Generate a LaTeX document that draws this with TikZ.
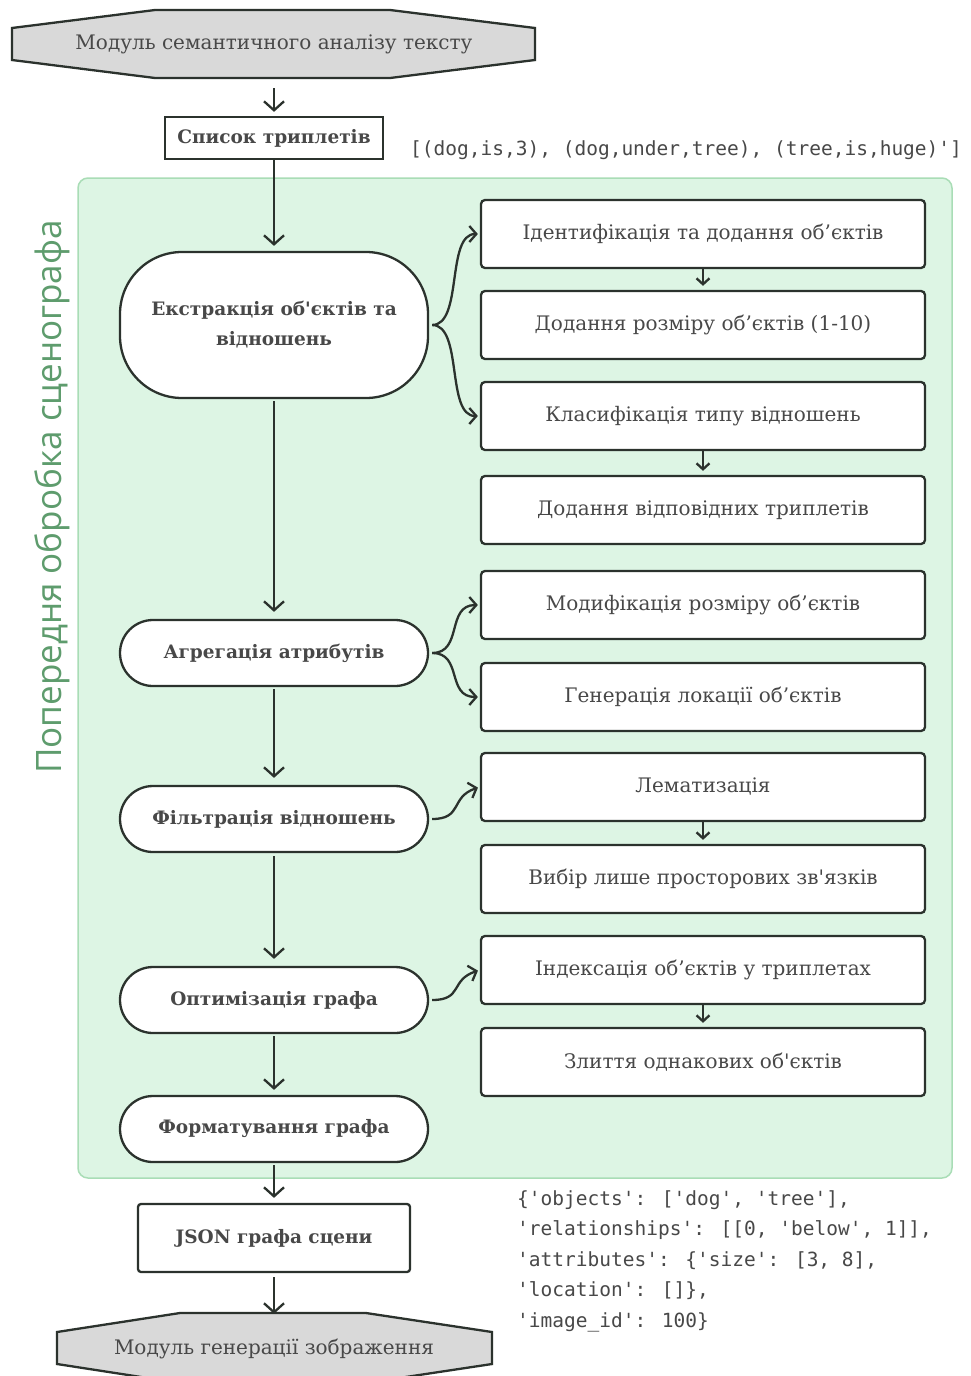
\documentclass[tikz,border=0pt]{standalone}
\usepackage{fontspec}
\setmainfont[Ligatures=TeXOff]{DejaVu Serif}
\newfontfamily\labelfont{Open Sans}
\newfontfamily\codefont[Ligatures=TeXOff]{DejaVu Sans Mono}
\usetikzlibrary{arrows.meta,calc}
\definecolor{panelfill}{HTML}{DDF5E4}
\definecolor{panelline}{HTML}{A9DDB6}
\definecolor{labelgreen}{HTML}{5E9C6D}
\definecolor{linedark}{HTML}{2B322D}
\definecolor{textgrey}{HTML}{484848}
\definecolor{hexfill}{HTML}{D9D9D9}
\begin{document}
\begin{tikzpicture}[x=1pt,y=-1pt,
  arr/.style={draw=linedark, line width=2.3pt, -{Straight Barb[length=9pt,width=20pt,line width=2.3pt]}},
  sarr/.style={draw=linedark, line width=2.3pt, -{Straight Barb[length=6pt,width=13pt,line width=2.3pt]}},
  carr/.style={draw=linedark, line width=2.3pt, -{Straight Barb[length=7pt,width=16pt,line width=2.3pt]}},
  hexline/.style={draw=linedark, line width=2.3pt, fill=hexfill},
  hextext/.style={text=textgrey, font=\fontsize{20}{24}\selectfont, inner sep=0pt},
  pill/.style={draw=linedark, line width=2.3pt, fill=white, minimum width=308pt, minimum height=66pt,
    rounded corners=33pt, text=textgrey, font=\bfseries\fontsize{18.5}{30}\selectfont, align=center},
  sqbox/.style={draw=linedark, line width=2.3pt, fill=white, rounded corners=3pt, text=textgrey,
    font=\bfseries\fontsize{18.5}{22}\selectfont},
  rbox/.style={draw=linedark, line width=2.3pt, fill=white, rounded corners=4pt, minimum width=444pt,
    minimum height=68pt, text=textgrey, font=\fontsize{20}{24}\selectfont},
  code/.style={text=textgrey, font=\codefont\fontsize{19.5}{30.5}\selectfont, inner sep=0pt, align=left},
  panel/.style={draw=panelline, line width=1.5pt, fill=panelfill, rounded corners=10pt}
]
\useasboundingbox (0,0) rectangle (970,1376);
\fill[white] (0,0) rectangle (970,1376);

% green panel
\node[panel, minimum width=874pt, minimum height=1000pt] (panel) at (515,678) {};
\node[rotate=90, text=labelgreen, font=\labelfont\fontsize{35}{40}\selectfont, inner sep=0pt] (side) at (52,497) {Попередня обробка сценографа};

% top hexagon
\draw[hexline] (12,28) -- (155,10) -- (390,10) -- (535,28) -- (535,60) -- (390,78) -- (155,78) -- (12,60) -- cycle;
\node[hextext, minimum width=500pt, minimum height=68pt] (top) at (274,44) {Модуль семантичного аналізу тексту};

\node[sqbox, minimum width=218pt, minimum height=42pt, rounded corners=0pt] (list) at (274,138) {Список триплетів};
\node[code, anchor=west] (trip) at (410,150) {[(dog,is,3), (dog,under,tree), (tree,is,huge)']};

% left column
\node[pill, minimum height=146pt, rounded corners=62pt] (ext) at (274,325) {Екстракція об'єктів та\\відношень};
\node[pill] (agg) at (274,653) {Агрегація атрибутів};
\node[pill] (fil) at (274,819) {Фільтрація відношень};
\node[pill] (opt) at (274,1000) {Оптимізація графа};
\node[pill] (fmt) at (274,1129) {Форматування графа};

\node[sqbox, minimum width=272pt, minimum height=68pt] (json) at (274,1238) {JSON графа сцени};

% bottom hexagon
\draw[hexline] (57,1332) -- (180,1313) -- (366,1313) -- (492,1332) -- (492,1364) -- (366,1383) -- (180,1383) -- (57,1364) -- cycle;
\node[hextext, minimum width=430pt, minimum height=60pt] (bot) at (274,1349) {Модуль генерації зображення};

% right column
\node[rbox] (r1) at (703,234) {Ідентифікація та додання об’єктів};
\node[rbox] (r2) at (703,325) {Додання розміру об’єктів (1-10)};
\node[rbox] (r3) at (703,416) {Класифікація типу відношень};
\node[rbox] (r4) at (703,510) {Додання відповідних триплетів};
\node[rbox] (r5) at (703,605) {Модифікація розміру об’єктів};
\node[rbox] (r6) at (703,697) {Генерація локації об’єктів};
\node[rbox] (r7) at (703,787) {Лематизація};
\node[rbox] (r8) at (703,879) {Вибір лише просторових зв'язків};
\node[rbox] (r9) at (703,970) {Індексація об’єктів у триплетах};
\node[rbox] (r10) at (703,1062) {Злиття однакових об'єктів};

% JSON text
\node[code, anchor=north west] (jtext) at (517,1190) {\{'objects': ['dog', 'tree'],\\
'relationships': [[0, 'below', 1]],\\
'attributes': \{'size': [3, 8],\\
'location': []\},\\
'image\_id': 100\}};

% main arrows
\draw[arr, shorten <=10pt, shorten >=4pt] (top) -- (list);
\draw[arr, shorten >=5pt] (list) -- (ext);
\draw[arr, shorten <=2pt, shorten >=7pt] (ext) -- (agg);
\draw[arr, shorten <=2pt, shorten >=7pt] (agg) -- (fil);
\draw[arr, shorten <=3pt, shorten >=7pt] (fil) -- (opt);
\draw[arr, shorten <=2pt, shorten >=5pt] (opt) -- (fmt);
\draw[arr, shorten <=2pt, shorten >=5pt] (fmt) -- (json);
\draw[arr, shorten <=4pt, shorten >=5pt] (json) -- (bot.north);

% small arrows between right boxes
\draw[sarr, shorten >=4pt] (r1) -- (r2);
\draw[sarr, shorten >=4pt] (r3) -- (r4);
\draw[sarr, shorten >=4pt] (r7) -- (r8);
\draw[sarr, shorten >=4pt] (r9) -- (r10);

% curved connectors
\draw[carr, shorten <=3pt, shorten >=2pt] (ext.east) .. controls +(34,0) and +(-34,0) .. (r1.west);
\draw[carr, shorten <=3pt, shorten >=2pt] (ext.east) .. controls +(34,0) and +(-34,0) .. (r3.west);
\draw[carr, shorten <=3pt, shorten >=2pt] (agg.east) .. controls +(34,0) and +(-34,0) .. (r5.west);
\draw[carr, shorten <=3pt, shorten >=2pt] (agg.east) .. controls +(34,0) and +(-34,0) .. (r6.west);
\draw[carr, shorten <=3pt, shorten >=2pt] (fil.east) .. controls +(34,0) and +(-30,10) .. (r7.west);
\draw[carr, shorten <=3pt, shorten >=2pt] (opt.east) .. controls +(34,0) and +(-30,10) .. (r9.west);
\end{tikzpicture}
\end{document}
